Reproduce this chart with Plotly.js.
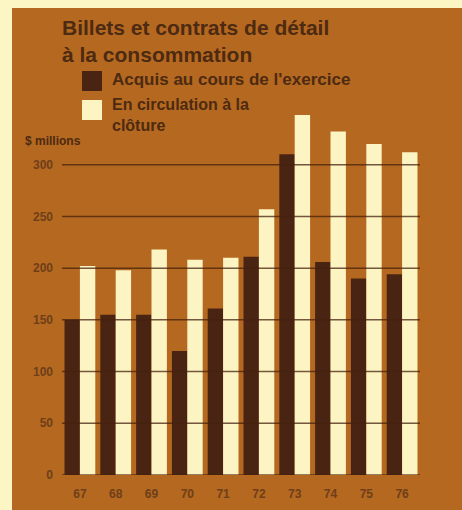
<!DOCTYPE html>
<html>
<head>
<meta charset="utf-8">
<script src="https://cdn.plot.ly/plotly-3.0.1.min.js"></script>
<style>
  html, body { margin: 0; padding: 0; background: #fbf6c4; width: 462px; height: 510px; overflow: hidden; }
  #chart { position: absolute; left: 12px; top: 8px; width: 450px; height: 502px; }
</style>
</head>
<body>
<div id="chart"></div>
<script>
// Consumer notes and contracts, $ millions, fiscal years 1967-1976
const years = ['67', '68', '69', '70', '71', '72', '73', '74', '75', '76'];
const acquired = [150, 155, 155, 120, 161, 211, 310, 206, 190, 194];
const outstanding = [202, 198, 218, 208, 210, 257, 348, 332, 320, 312];
const yTicks = [0, 50, 100, 150, 200, 250, 300];

const bg = '#b5681f';
const dark = '#4a2413';
const cream = '#fcf4c2';
const ink = '#4d2a12';
const tickInk = '#6e3f1a';

const traces = [
  { type: 'bar', x: years, y: acquired, name: "Acquis au cours de l'exercice",
    marker: { color: dark, line: { width: 0 } }, hoverinfo: 'skip' },
  { type: 'bar', x: years, y: outstanding, name: 'En circulation à la clôture',
    marker: { color: cream, line: { width: 0 } }, hoverinfo: 'skip' }
];

// gridlines drawn over the bars
const shapes = yTicks.map(v => ({
  type: 'line', xref: 'paper', yref: 'y', x0: 0, x1: 1, y0: v, y1: v,
  layer: 'above', line: { color: 'rgba(70,34,14,0.75)', width: 1.5 }
}));

// legend swatches
shapes.push(
  { type: 'rect', xref: 'paper', yref: 'paper', x0: 0.0559, x1: 0.1117, y0: 1.0608, y1: 1.116,
    fillcolor: dark, line: { width: 0 } },
  { type: 'rect', xref: 'paper', yref: 'paper', x0: 0.0559, x1: 0.1117, y0: 0.9807, y1: 1.0359,
    fillcolor: cream, line: { width: 0 } }
);

const boldFont = (size, color) => ({ family: 'Liberation Sans, Arial, sans-serif', size: size, color: color, weight: 'bold' });

const annotations = [
  { text: 'Billets et contrats de détail<br>à la consommation', xref: 'paper', yref: 'paper',
    x: 0, y: 1.199, xanchor: 'left', yanchor: 'middle', align: 'left', showarrow: false,
    xshift: -2, font: boldFont(21, ink) },
  { text: "Acquis au cours de l'exercice", xref: 'paper', yref: 'paper',
    x: 0.1397, y: 1.0912, xanchor: 'left', yanchor: 'middle', showarrow: false,
    xshift: -2, font: boldFont(17, ink) },
  { text: 'En circulation à la<br>clôture', xref: 'paper', yref: 'paper',
    x: 0.1397, y: 0.9945, xanchor: 'left', yanchor: 'middle', align: 'left', showarrow: false,
    xshift: -2, font: boldFont(16, ink) },
  { text: '$ millions', xref: 'paper', yref: 'paper',
    x: -0.1034, y: 0.9227, xanchor: 'left', yanchor: 'middle', showarrow: false,
    xshift: -2, font: boldFont(12, ink) }
];

const layout = {
  width: 450, height: 502,
  margin: { l: 50, r: 42, t: 105, b: 35 },
  paper_bgcolor: bg, plot_bgcolor: bg,
  barmode: 'group', bargap: 0.14, bargroupgap: 0,
  showlegend: false,
  xaxis: {
    type: 'category', categoryorder: 'array', categoryarray: years,
    showgrid: false, zeroline: false, showline: false, ticks: '',
    ticklabelstandoff: 10, tickfont: boldFont(12, tickInk), fixedrange: true
  },
  yaxis: {
    range: [0, 350], tickvals: yTicks, ticktext: yTicks.map(String),
    showgrid: false, zeroline: false, showline: false, ticks: '',
    ticklabelstandoff: 8, tickfont: boldFont(12, tickInk), fixedrange: true
  },
  shapes: shapes,
  annotations: annotations
};

Plotly.newPlot('chart', traces, layout, { displayModeBar: false, staticPlot: true });
</script>
</body>
</html>
